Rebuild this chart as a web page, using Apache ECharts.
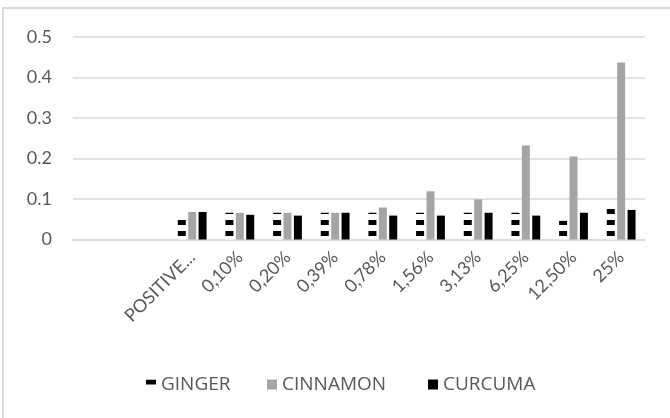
<!DOCTYPE html>
<html>
<head>
<meta charset="utf-8">
<script src="https://cdn.jsdelivr.net/npm/echarts@6/dist/echarts.min.js"></script>
<style>
html,body{margin:0;padding:0;background:#fff;}
#chart{width:670px;height:418px;}
</style>
</head>
<body>
<div id="chart"></div>
<script>
const categories = ['', '', 'POSITIVE...', '0,10%', '0,20%', '0,39%', '0,78%', '1,56%', '3,13%', '6,25%', '12,50%', '25%'];
const ginger   = [null, null, 0.062, 0.066, 0.066, 0.066, 0.066, 0.066, 0.066, 0.066, 0.046, 0.085];
const cinnamon = [null, null, 0.068, 0.066, 0.066, 0.066, 0.079, 0.119, 0.099, 0.232, 0.205, 0.437];
const curcuma  = [null, null, 0.068, 0.061, 0.059, 0.066, 0.059, 0.059, 0.066, 0.059, 0.066, 0.073];
const yTicks = [0, 0.1, 0.2, 0.3, 0.4, 0.5];

function stripePattern() {
  const c = document.createElement('canvas');
  c.width = 8; c.height = 11;
  const ctx = c.getContext('2d');
  ctx.fillStyle = '#ffffff';
  ctx.fillRect(0, 0, 8, 11);
  ctx.fillStyle = '#000000';
  ctx.fillRect(0, 0, 8, 5);
  return c;
}
const gingerFill = { image: stripePattern(), repeat: 'repeat' };

const font = 'Lato, "Open Sans", sans-serif';
const legendFont = '"Open Sans", Lato, sans-serif';
const chart = echarts.init(document.getElementById('chart'), null, { renderer: 'canvas' });
chart.setOption({
  animation: false,
  backgroundColor: '#ffffff',
  graphic: [{
    type: 'rect', shape: { x: 3, y: 8, width: 700, height: 500 },
    style: { fill: 'none', stroke: '#d9d9d9', lineWidth: 2 }, silent: true, z: -1
  }],
  grid: { left: 73, right: 25, top: 37, bottom: 178.5, containLabel: false },
  legend: [
    { data: ['GINGER'], left: 141, top: 370, itemWidth: 10, itemHeight: 10, icon: 'rect', itemGap: 6,
      textStyle: { fontSize: 19, color: '#595959', fontFamily: legendFont } },
    { data: ['CINNAMON'], left: 262, top: 370, itemWidth: 10, itemHeight: 10, icon: 'rect',
      textStyle: { fontSize: 19, color: '#595959', fontFamily: legendFont } },
    { data: ['CURCUMA'], left: 423, top: 370, itemWidth: 10, itemHeight: 10, icon: 'rect',
      textStyle: { fontSize: 19, color: '#595959', fontFamily: legendFont } }
  ],
  xAxis: {
    type: 'category', data: categories,
    axisLine: { lineStyle: { color: '#d9d9d9', width: 1.5 } },
    axisTick: { show: false },
    axisLabel: { rotate: 45, interval: 0, margin: 15, fontSize: 18, color: '#595959', fontFamily: font }
  },
  yAxis: {
    type: 'value', min: yTicks[0], max: yTicks[yTicks.length - 1], interval: 0.1,
    axisLine: { show: false }, axisTick: { show: false },
    splitLine: { lineStyle: { color: '#d9d9d9', width: 1.5 } },
    axisLabel: { margin: 21, fontSize: 18, color: '#595959', fontFamily: font,
      formatter: v => v === 0 ? '0' : v.toFixed(1) }
  },
  series: [
    { name: 'GINGER', type: 'bar', data: ginger, barWidth: 8, barGap: '30%',
      itemStyle: { color: gingerFill } },
    { name: 'CINNAMON', type: 'bar', data: cinnamon, barWidth: 8, barGap: '30%',
      itemStyle: { color: '#a5a5a5' } },
    { name: 'CURCUMA', type: 'bar', data: curcuma, barWidth: 8, barGap: '30%',
      itemStyle: { color: '#000000' } }
  ]
});
</script>
</body>
</html>
